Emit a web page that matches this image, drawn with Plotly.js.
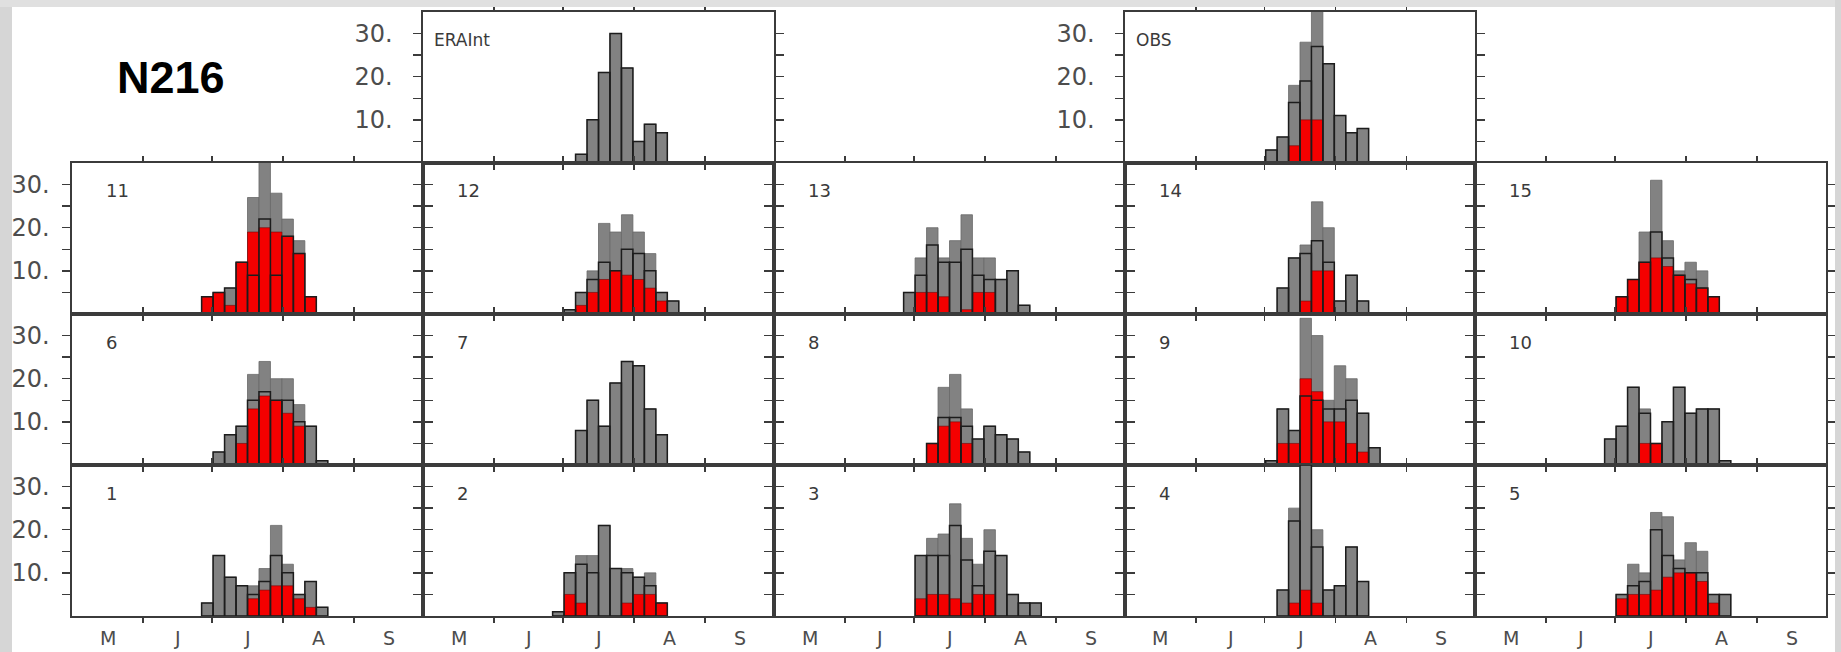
<!DOCTYPE html>
<html>
<head>
<meta charset="utf-8">
<script src="https://cdn.plot.ly/plotly-3.0.1.min.js"></script>
<style>
  html, body { margin: 0; padding: 0; background: #ffffff; }
  #chart { width: 1841px; height: 652px; }
</style>
</head>
<body>
<div id="chart"></div>
<script>
// Pentad histograms of onset dates. The x axis counts days from 1 May;
// pentad k covers days 1.5+5k .. 6.5+5k, so its centre is day 4+5k.
const monthLabels = ['M', 'J', 'J', 'A', 'S'];
const monthMidDays = [15.5, 46, 76.5, 107.5, 138];
const monthStartDays = [31, 61, 92, 123];
const yTickVals = [5, 10, 15, 20, 25, 30];
const yTickText = ['', '10.', '', '20.', '', '30.'];

// Reanalysis and observations
const eraFirst = 13;
const eraGray = [2, 10, 21, 30, 22, 5, 9, 7];

const obsFirst = 12;
const obsGray = [3, 6, 18, 28, 36, 23, 11, 7, 8];
const obsLine = [3, 6, 14, 19, 27, 23, 11, 7, 8];
const obsRed  = [0, 0, 4, 10, 10, 0, 0, 0, 0];

// Ensemble members 1-15
const m1First = 11;
const m1Gray = [3, 14, 9, 7, 7, 11, 21, 12, 5, 8, 2];
const m1Line = [3, 14, 9, 7, 5, 8, 14, 10, 5, 8, 2];
const m1Red  = [0, 0, 0, 0, 4, 6, 7, 7, 4, 2, 0];

const m2First = 11;
const m2Gray = [1, 10, 14, 14, 21, 11, 11, 9, 10, 3];
const m2Line = [1, 10, 12, 10, 21, 11, 10, 9, 7, 3];
const m2Red  = [0, 5, 3, 0, 0, 0, 3, 5, 5, 3];

const m3First = 12;
const m3Gray = [14, 18, 19, 26, 18, 12, 20, 14, 5, 3, 3];
const m3Line = [14, 14, 14, 21, 13, 7, 15, 14, 5, 3, 3];
const m3Red  = [4, 5, 5, 4, 3, 5, 5, 0, 0, 0, 0];

const m4First = 13;
const m4Gray = [6, 25, 35, 20, 6, 7, 16, 8];
const m4Line = [6, 22, 35, 16, 6, 7, 16, 8];
const m4Red  = [0, 3, 6, 3, 0, 0, 0, 0];

const m5First = 12;
const m5Gray = [5, 12, 10, 24, 23, 13, 17, 15, 5, 5];
const m5Line = [5, 7, 8, 20, 14, 11, 10, 10, 5, 5];
const m5Red  = [4, 5, 5, 6, 9, 10, 10, 8, 3, 0];

const m6First = 12;
const m6Gray = [3, 7, 9, 21, 24, 20, 20, 14, 9, 1];
const m6Line = [3, 7, 9, 15, 17, 15, 15, 10, 9, 1];
const m6Red  = [0, 0, 5, 13, 16, 15, 12, 9, 0, 0];

const m7First = 13;
const m7Gray = [8, 15, 9, 19, 24, 23, 13, 7];

const m8First = 13;
const m8Gray = [5, 18, 21, 13, 6, 9, 7, 6, 3];
const m8Line = [5, 11, 11, 9, 6, 9, 7, 6, 3];
const m8Red  = [5, 9, 10, 5, 0, 0, 0, 0, 0];

const m9First = 12;
const m9Gray = [1, 13, 8, 34, 30, 15, 23, 20, 12, 4];
const m9Line = [1, 13, 8, 16, 15, 13, 13, 15, 12, 4];
const m9Red  = [0, 5, 5, 20, 17, 10, 10, 5, 3, 0];

const m10First = 11;
const m10Gray = [6, 9, 18, 13, 5, 10, 18, 12, 13, 13, 1];
const m10Line = [6, 9, 18, 12, 5, 10, 18, 12, 13, 13, 1];
const m10Red  = [0, 0, 0, 5, 5, 0, 0, 0, 0, 0, 0];

const m11First = 11;
const m11Gray = [4, 5, 6, 12, 27, 36, 28, 22, 17, 4];
const m11Line = [4, 5, 6, 12, 9, 22, 9, 18, 14, 4];
const m11Red  = [4, 5, 2, 12, 19, 20, 19, 18, 14, 4];

const m12First = 12;
const m12Gray = [1, 5, 10, 21, 19, 23, 19, 14, 5, 3];
const m12Line = [1, 5, 8, 12, 10, 15, 14, 10, 5, 3];
const m12Red  = [0, 2, 5, 8, 10, 9, 8, 6, 3, 0];

const m13First = 11;
const m13Gray = [5, 13, 20, 13, 17, 23, 13, 13, 8, 10, 2];
const m13Line = [5, 9, 16, 12, 12, 15, 9, 8, 8, 10, 2];
const m13Red  = [0, 5, 5, 4, 0, 1, 5, 5, 0, 0, 0];

const m14First = 13;
const m14Gray = [6, 13, 16, 26, 20, 3, 9, 3];
const m14Line = [6, 13, 14, 17, 12, 3, 9, 3];
const m14Red  = [0, 0, 3, 10, 10, 0, 0, 0];

const m15First = 12;
const m15Gray = [4, 8, 19, 31, 17, 10, 12, 10, 4];
const m15Line = [4, 8, 12, 19, 13, 9, 8, 6, 4];
const m15Red  = [4, 8, 12, 13, 11, 9, 7, 6, 4];

// Panel grid: row 0 on top, column 0 on the left
const panels = [
  { label: 'ERAInt', row: 0, col: 1, first: eraFirst, gray: eraGray, line: eraGray, red: null },
  { label: 'OBS',    row: 0, col: 3, first: obsFirst, gray: obsGray, line: obsLine, red: obsRed },
  { label: '11', row: 1, col: 0, first: m11First, gray: m11Gray, line: m11Line, red: m11Red },
  { label: '12', row: 1, col: 1, first: m12First, gray: m12Gray, line: m12Line, red: m12Red },
  { label: '13', row: 1, col: 2, first: m13First, gray: m13Gray, line: m13Line, red: m13Red },
  { label: '14', row: 1, col: 3, first: m14First, gray: m14Gray, line: m14Line, red: m14Red },
  { label: '15', row: 1, col: 4, first: m15First, gray: m15Gray, line: m15Line, red: m15Red },
  { label: '6',  row: 2, col: 0, first: m6First,  gray: m6Gray,  line: m6Line,  red: m6Red },
  { label: '7',  row: 2, col: 1, first: m7First,  gray: m7Gray,  line: m7Gray,  red: null },
  { label: '8',  row: 2, col: 2, first: m8First,  gray: m8Gray,  line: m8Line,  red: m8Red },
  { label: '9',  row: 2, col: 3, first: m9First,  gray: m9Gray,  line: m9Line,  red: m9Red },
  { label: '10', row: 2, col: 4, first: m10First, gray: m10Gray, line: m10Line, red: m10Red },
  { label: '1',  row: 3, col: 0, first: m1First,  gray: m1Gray,  line: m1Line,  red: m1Red },
  { label: '2',  row: 3, col: 1, first: m2First,  gray: m2Gray,  line: m2Line,  red: m2Red },
  { label: '3',  row: 3, col: 2, first: m3First,  gray: m3Gray,  line: m3Line,  red: m3Red },
  { label: '4',  row: 3, col: 3, first: m4First,  gray: m4Gray,  line: m4Line,  red: m4Red },
  { label: '5',  row: 3, col: 4, first: m5First,  gray: m5Gray,  line: m5Line,  red: m5Red }
];

// Page geometry (pixels)
const W = 1841, H = 652;
const colEdges = [72, 423, 774, 1125, 1475, 1826];
const rowEdges = [12, 163, 314, 465, 616];

const frameColor = '#3b3b3b';
const textColor = '#4d4d4d';
const labelFont = 'DejaVu Sans, sans-serif';

function pentadCentres(first, n) {
  const out = [];
  for (let i = 0; i < n; i++) out.push(4 + 5 * (first + i));
  return out;
}
function nz(arr) { return arr.map(v => (v > 0 ? v : null)); }

const traces = [];
const layout = {
  width: W, height: H,
  margin: { l: 0, r: 0, t: 0, b: 0, pad: 0 },
  paper_bgcolor: '#ffffff',
  plot_bgcolor: 'rgba(0,0,0,0)',
  barmode: 'overlay',
  showlegend: false,
  annotations: [],
  shapes: []
};

panels.forEach((p, i) => {
  const n = i + 1;
  const xs = n === 1 ? 'x' : 'x' + n;
  const ys = n === 1 ? 'y' : 'y' + n;
  const xKey = n === 1 ? 'xaxis' : 'xaxis' + n;
  const yKey = n === 1 ? 'yaxis' : 'yaxis' + n;
  const xc = pentadCentres(p.first, p.gray.length);

  traces.push({
    type: 'bar', x: xc, y: nz(p.gray), width: 5, xaxis: xs, yaxis: ys,
    marker: { color: '#828282', line: { color: '#686868', width: 0.8 } },
    hoverinfo: 'skip'
  });
  if (p.red) {
    traces.push({
      type: 'bar', x: xc, y: nz(p.red), width: 5, xaxis: xs, yaxis: ys,
      marker: { color: '#f40000', line: { color: 'rgba(110,0,0,0.7)', width: 0.8 } },
      hoverinfo: 'skip'
    });
  }
  traces.push({
    type: 'bar', x: xc, y: nz(p.line), width: 5, xaxis: xs, yaxis: ys,
    marker: { color: 'rgba(0,0,0,0)', line: { color: '#1c1c1c', width: 1.5 } },
    hoverinfo: 'skip'
  });

  const showY = p.col === 0 || p.row === 0;
  layout[xKey] = {
    domain: [colEdges[p.col] / W, colEdges[p.col + 1] / W],
    anchor: ys, range: [0, 153],
    showline: true, mirror: 'ticks', linecolor: frameColor, linewidth: 1.6,
    ticks: 'outside', ticklen: 5, tickwidth: 1.5, tickcolor: frameColor,
    tickmode: 'array', tickvals: monthStartDays, showticklabels: false,
    showgrid: false, zeroline: false, fixedrange: true
  };
  layout[yKey] = {
    domain: [1 - rowEdges[p.row + 1] / H, 1 - rowEdges[p.row] / H],
    anchor: xs, range: [0, 35],
    showline: true, mirror: 'ticks', linecolor: frameColor, linewidth: 1.6,
    ticks: 'outside', ticklen: 8, tickwidth: 1.5, tickcolor: frameColor,
    tickmode: 'array', tickvals: yTickVals, ticktext: yTickText,
    showticklabels: showY, ticklabelstandoff: p.row === 0 ? 16 : 8,
    tickfont: { family: labelFont, size: 24, color: textColor },
    showgrid: false, zeroline: false, fixedrange: true
  };

  // panel name in the upper-left corner
  const isNamed = p.row === 0;
  layout.annotations.push({
    xref: 'paper', yref: 'paper',
    x: (colEdges[p.col] + (isNamed ? 9 : 32)) / W,
    y: 1 - (rowEdges[p.row] + 28) / H,
    xanchor: 'left', yanchor: 'middle', showarrow: false,
    text: p.label,
    font: { family: labelFont, size: isNamed ? 17 : 18, color: '#3a3a3a' }
  });

  // month initials under the bottom row
  if (p.row === 3) {
    monthMidDays.forEach((d, j) => {
      layout.annotations.push({
        xref: xs, yref: 'paper', x: d, y: 1 - 638 / H,
        xanchor: 'center', yanchor: 'middle', showarrow: false,
        text: monthLabels[j],
        font: { family: labelFont, size: 19, color: textColor }
      });
    });
  }
});

// resolution tag
layout.annotations.push({
  xref: 'paper', yref: 'paper', x: 171 / W, y: 1 - 78 / H,
  xanchor: 'center', yanchor: 'middle', showarrow: false,
  text: '<b>N216</b>',
  font: { family: 'Liberation Sans, Arial, sans-serif', size: 45, color: '#000000' }
});

// slide margins around the figure
const edge = '#d6d6d6';
layout.shapes.push(
  { type: 'rect', xref: 'paper', yref: 'paper', x0: 0, x1: 12 / W, y0: 0, y1: 1,
    fillcolor: edge, line: { width: 0 }, layer: 'above' },
  { type: 'rect', xref: 'paper', yref: 'paper', x0: 0, x1: 1, y0: 1 - 7 / H, y1: 1,
    fillcolor: '#e0e0e0', line: { width: 0 }, layer: 'above' },
  { type: 'rect', xref: 'paper', yref: 'paper', x0: 1835 / W, x1: 1, y0: 0, y1: 1,
    fillcolor: edge, line: { width: 0 }, layer: 'above' }
);

Plotly.newPlot('chart', traces, layout, { staticPlot: true, displayModeBar: false });
</script>
</body>
</html>
